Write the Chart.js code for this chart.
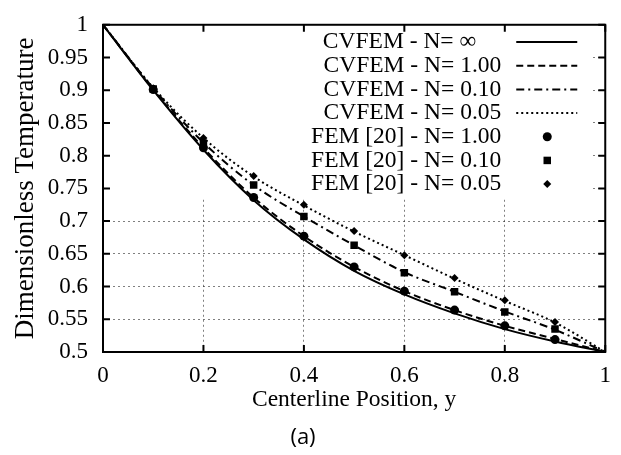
<!DOCTYPE html>
<html><head><meta charset="utf-8">
<script src="https://cdn.jsdelivr.net/npm/chart.js@4.4.1/dist/chart.umd.min.js"></script>
<style>html,body{margin:0;padding:0;background:#fff;}canvas{display:block;}</style>
</head><body>
<canvas id="c" width="621" height="455"></canvas>
<script>
// ---- data ----
const xCurve   = [0, 0.1, 0.2, 0.3, 0.4, 0.5, 0.6, 0.7, 0.8, 0.9, 1.0];
const cvfemInf = [1, 0.900, 0.809, 0.732, 0.672, 0.624, 0.588, 0.559, 0.535, 0.516, 0.5];
const cvfem100 = [1, 0.901, 0.812, 0.736, 0.677, 0.630, 0.593, 0.564, 0.540, 0.520, 0.5];
const cvfem010 = [1, 0.903, 0.820, 0.755, 0.707, 0.663, 0.622, 0.592, 0.562, 0.534, 0.5];
const cvfem005 = [1, 0.904, 0.827, 0.768, 0.724, 0.684, 0.648, 0.612, 0.578, 0.545, 0.5];
const xFem   = [0.1, 0.2, 0.3, 0.4, 0.5, 0.6, 0.7, 0.8, 0.9];
const fem100 = [0.901, 0.812, 0.736, 0.677, 0.630, 0.593, 0.564, 0.540, 0.519];
const fem010 = [0.902, 0.819, 0.755, 0.707, 0.663, 0.621, 0.592, 0.561, 0.535];
const fem005 = [0.903, 0.827, 0.769, 0.725, 0.685, 0.648, 0.613, 0.579, 0.546];
const seriesLabels = ['CVFEM - N= \u221E', 'CVFEM - N= 1.00', 'CVFEM - N= 0.10', 'CVFEM - N= 0.05',
                      'FEM [20] - N= 1.00', 'FEM [20] - N= 0.10', 'FEM [20] - N= 0.05'];
const xTickLabels = ['0', '0.2', '0.4', '0.6', '0.8', '1'];
const yTickLabels = ['0.5', '0.55', '0.6', '0.65', '0.7', '0.75', '0.8', '0.85', '0.9', '0.95', '1'];
const xTitle = 'Centerline Position, y';
const yTitle = 'Dimensionless Temperature';
const caption = '(a)';

function pts(xs, ys) { return xs.map((x, i) => ({x: x, y: ys[i]})); }

const SERIF = '"Liberation Serif", "Times New Roman", serif';

const framePlugin = {
  id: 'frameAndKey',
  beforeDatasetsDraw(chart) {
    const {ctx, chartArea: a} = chart;
    ctx.save();
    ctx.fillStyle = '#fff';
    ctx.fillRect(a.left, a.top, a.right - a.left - 14, 174);
    ctx.restore();
  },
  afterDatasetsDraw(chart) {
    const {ctx, chartArea: a, scales: {x, y}} = chart;
    ctx.save();
    ctx.strokeStyle = '#000';
    ctx.lineWidth = 2;
    ctx.setLineDash([]);
    const tl = 7;
    ctx.beginPath();
    x.ticks.forEach(t => {
      const px = x.getPixelForValue(t.value);
      ctx.moveTo(px, a.bottom); ctx.lineTo(px, a.bottom - tl);
      ctx.moveTo(px, a.top); ctx.lineTo(px, a.top + tl);
    });
    y.ticks.forEach(t => {
      const py = y.getPixelForValue(t.value);
      ctx.moveTo(a.left, py); ctx.lineTo(a.left + tl, py);
      ctx.moveTo(a.right, py); ctx.lineTo(a.right - tl, py);
    });
    ctx.stroke();
    ctx.strokeRect(a.left, a.top, a.right - a.left, a.bottom - a.top);

    ctx.font = '23.5px ' + SERIF;
    ctx.fillStyle = '#000';
    ctx.textAlign = 'right';
    ctx.textBaseline = 'middle';
    chart.data.datasets.forEach((ds, i) => {
      const ry = a.top + 17.3 + i * 23.67;
      // the infinity entry sits further left in the reference key
      const tx = ds.label.indexOf('\u221E') >= 0 ? a.right - 129 : a.right - 104;
      ctx.fillText(ds.label, tx, ry);
      if (ds.showLine) {
        ctx.save();
        ctx.lineWidth = ds.borderWidth;
        ctx.setLineDash(ds.borderDash || []);
        ctx.strokeStyle = ds.borderColor;
        ctx.beginPath();
        ctx.moveTo(a.right - 89, ry); ctx.lineTo(a.right - 28, ry);
        ctx.stroke();
        ctx.restore();
      } else {
        ctx.fillStyle = '#000';
        Chart.helpers.drawPoint(ctx, {pointStyle: ds.pointStyle, radius: ds.pointRadius, rotation: 0, borderWidth: 0}, a.right - 58, ry);
      }
    });
    ctx.restore();
  }
};

function lineDs(label, ys, dash, width) {
  return {label: label, data: pts(xCurve, ys), showLine: true, borderColor: '#000', borderWidth: width,
          borderDash: dash, pointRadius: 0, cubicInterpolationMode: 'monotone', fill: false, order: 1};
}
function pointDs(label, ys, style, r) {
  return {label: label, data: pts(xFem, ys), showLine: false, pointStyle: style, pointRadius: r,
          pointBackgroundColor: '#000', pointBorderWidth: 0, backgroundColor: '#000', borderColor: '#000', order: 0};
}

new Chart(document.getElementById('c'), {
  type: 'scatter',
  data: {
    datasets: [
      lineDs(seriesLabels[0], cvfemInf, [], 2),
      lineDs(seriesLabels[1], cvfem100, [7, 4], 2),
      lineDs(seriesLabels[2], cvfem010, [8, 4, 2, 4], 2),
      lineDs(seriesLabels[3], cvfem005, [2, 3], 2),
      pointDs(seriesLabels[4], fem100, 'circle', 4.5),
      pointDs(seriesLabels[5], fem010, 'rect', 5.3),
      pointDs(seriesLabels[6], fem005, 'rectRot', 4)
    ]
  },
  options: {
    responsive: false,
    animation: false,
    devicePixelRatio: 1,
    layout: {padding: {left: 0, top: 10, right: 15, bottom: 0}},
    plugins: {
      legend: {display: false},
      tooltip: {enabled: false},
      title: {display: true, text: caption, position: 'bottom', color: '#000',
              font: {family: '"Open Sans", sans-serif', size: 22, weight: 'normal'},
              padding: {top: 0, bottom: 4}}
    },
    scales: {
      x: {
        type: 'linear', min: 0, max: 1,
        afterFit: s => { s.height = 72.6; },
        ticks: {stepSize: 0.2, color: '#000', padding: 10, maxRotation: 0,
                font: {family: SERIF, size: 23},
                callback: (v, i) => xTickLabels[i]},
        grid: {color: 'rgba(0,0,0,0.5)', lineWidth: 1, drawTicks: false},
        border: {display: false, dash: [2, 3]},
        title: {display: true, text: xTitle, color: '#000', font: {family: SERIF, size: 23.5},
                padding: {top: 0, bottom: 11}}
      },
      y: {
        type: 'linear', min: 0.5, max: 1,
        afterFit: s => { s.width = 103; },
        ticks: {stepSize: 0.05, color: '#000', padding: 15,
                font: {family: SERIF, size: 23, lineHeight: 0.85},
                callback: (v, i) => yTickLabels[i]},
        grid: {color: 'rgba(0,0,0,0.5)', lineWidth: 1, drawTicks: false},
        border: {display: false, dash: [2, 3]},
        title: {display: true, text: yTitle, color: '#000', font: {family: SERIF, size: 27},
                padding: {top: 9.3, bottom: 0}}
      }
    }
  },
  plugins: [framePlugin]
});
</script>
</body></html>
